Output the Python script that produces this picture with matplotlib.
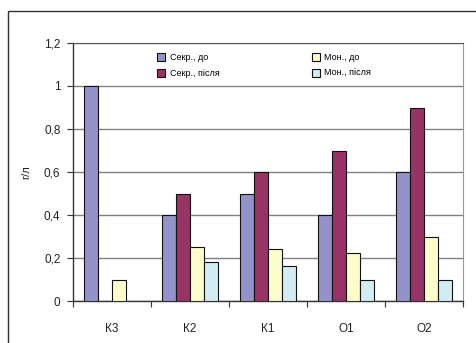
import numpy as np
import matplotlib
matplotlib.use('Agg')
from matplotlib import pyplot as plt
from matplotlib.patches import Rectangle

plt.rcParams['font.family'] = ['Liberation Sans', 'DejaVu Sans']

categories = ['К3', 'К2', 'К1', 'О1', 'О2']
series_names = ['Секр., до', 'Секр., після', 'Мон., до', 'Мон., після']
sekr_do = [1.0, 0.4, 0.5, 0.4, 0.6]
sekr_pislia = [0.0, 0.5, 0.6, 0.7, 0.9]
mon_do = [0.1, 0.25, 0.24, 0.225, 0.3]
mon_pislia = [0.0, 0.18, 0.165, 0.1, 0.1]
yticks = [0, 0.2, 0.4, 0.6, 0.8, 1.0, 1.2]
ytick_labels = ['0', '0,2', '0,4', '0,6', '0,8', '1', '1,2']

colors = ['#9393c9', '#993366', '#fdfdcc', '#d2edf2']

fig = plt.figure(figsize=(4.76, 3.43), dpi=100)
ax = fig.add_axes([73 / 476, 1 - 301 / 343, 390 / 476, 258 / 343])

# outer frame of the chart area
fig.patches.append(Rectangle((8 / 476, -0.2), 1.2, 1.2 - 11 / 343,
                             transform=fig.transFigure, fill=False,
                             edgecolor='#333333', linewidth=1.0))

x = np.arange(len(categories))
w = 0.18
allvals = [sekr_do, sekr_pislia, mon_do, mon_pislia]
for i, vals in enumerate(allvals):
    vals = np.array(vals)
    mask = vals > 0
    ax.bar(x[mask] + (i - 1.5) * w, vals[mask], width=w, color=colors[i],
           edgecolor='#111111', linewidth=0.8, label=series_names[i], zorder=3)

ax.set_xlim(-0.5, len(categories) - 0.5)
ax.set_ylim(0, 1.2)
ax.set_yticks(yticks)
ax.set_yticklabels(ytick_labels)
ax.yaxis.grid(True, color='#808080', linewidth=1.0, zorder=0)
ax.set_axisbelow(True)

ax.set_xticks(x)
ax.set_xticklabels(categories)
ax.set_xticks(np.arange(len(categories) + 1) - 0.5, minor=True)
ax.tick_params(axis='x', which='major', length=0, pad=16, labelsize=8.5,
               labelcolor='#222222')
ax.tick_params(axis='x', which='minor', length=4, width=0.8, color='#333333')
ax.tick_params(axis='y', length=4, width=0.8, color='#333333', pad=5,
               labelsize=8.5, labelcolor='#222222')

for s in ['left', 'bottom']:
    ax.spines[s].set_color('#333333')
    ax.spines[s].set_linewidth(1.0)
ax.spines['top'].set_color('#555555')
ax.spines['right'].set_color('#999999')

ax.set_ylabel('г/л', fontsize=8, labelpad=9, color='#222222')

leg = ax.legend(ncol=2, loc='upper left', bbox_to_anchor=(0.2, 0.985),
                frameon=False, fontsize=6.5, handlelength=0.9, handleheight=0.9,
                columnspacing=10.2, labelspacing=0.75, handletextpad=0.5,
                borderaxespad=0.3)

fig.savefig('out.png', dpi=100)
